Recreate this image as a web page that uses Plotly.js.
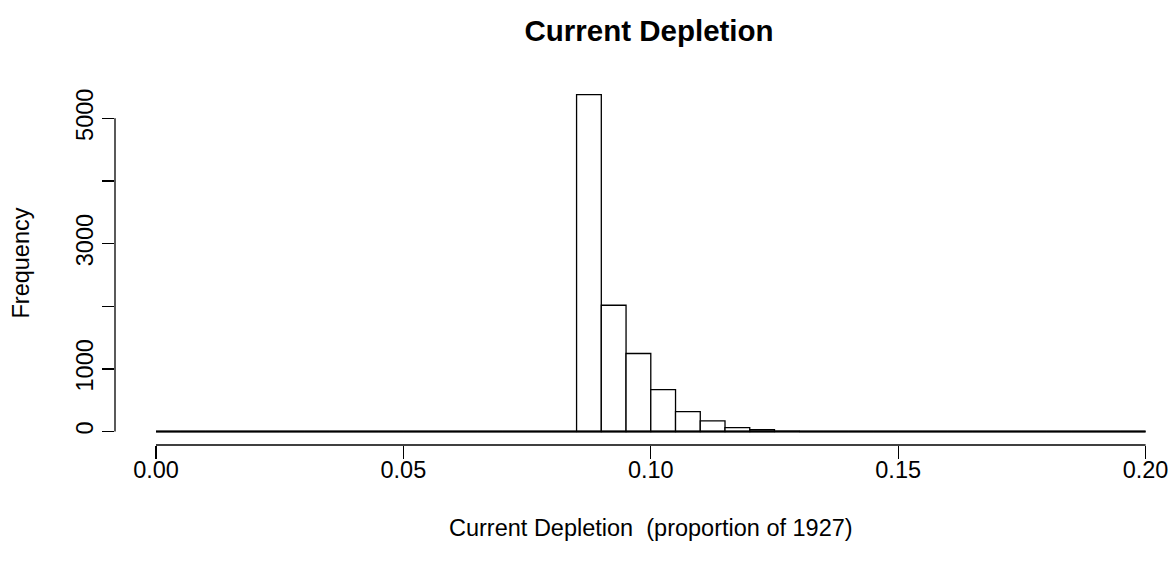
<!DOCTYPE html>
<html>
<head>
<meta charset="utf-8">
<script src="https://cdn.plot.ly/plotly-3.0.1.min.js"></script>
<style>html,body{margin:0;padding:0;background:#fff;}#chart{width:1172px;height:562px;}</style>
</head>
<body>
<div id="chart"></div>
<script>
// Histogram bins (width 0.005, from 0 to 0.2)
var binStart = 0.0;
var binWidth = 0.005;
var counts = [
  0, 0, 0, 0, 0, 0, 0, 0, 0, 0,
  0, 0, 0, 0, 0, 0, 0, 5377, 2016, 1245,
  670, 319, 171, 62, 28, 5, 0, 0, 0, 0,
  0, 0, 0, 0, 0, 0, 0, 0, 0, 0
];
var xTickVals = [0, 0.05, 0.10, 0.15, 0.20];
var xTickText = ["0.00", "0.05", "0.10", "0.15", "0.20"];
var yTickVals = [0, 1000, 2000, 3000, 4000, 5000];
var yTickText = ["0", "1000", "", "3000", "", "5000"];
var titleText = "Current Depletion";
var xTitle = "Current Depletion  (proportion of 1927)";
var yTitle = "Frequency";

var centers = counts.map(function (c, i) { return binStart + (i + 0.5) * binWidth; });

var FONT = "Liberation Sans, Arial, Helvetica, sans-serif";
var AX = 23.5;

var trace = {
  type: "bar",
  x: centers,
  y: counts,
  width: binWidth,
  marker: { color: "rgba(255,255,255,1)", line: { color: "#000", width: 1.3 } },
  hoverinfo: "x+y"
};

var layout = {
  width: 1172, height: 562,
  paper_bgcolor: "#fff", plot_bgcolor: "#fff",
  margin: { l: 115, r: 0, t: 81, b: 117, pad: 0 },
  showlegend: false,
  bargap: 0,
  font: { family: FONT, size: AX, color: "#000" },
  title: { text: "<b>" + titleText + "</b>", font: { family: FONT, size: 29.5, color: "#000" },
           x: 0.5538, xanchor: "center", y: 0.946, yanchor: "middle", xref: "container", yref: "container" },
  xaxis: {
    range: [-0.008286, 0.20534],
    showgrid: false, zeroline: false, showline: false,
    tickmode: "array", tickvals: xTickVals, ticktext: xTickText,
    ticks: "outside", ticklen: 13, tickwidth: 1.3, tickcolor: "#000",
    ticklabelstandoff: -9,
    tickfont: { family: FONT, size: AX, color: "#000" }
  },
  yaxis: {
    range: [-215.4, 5595.6],
    showgrid: false, zeroline: false, showline: false,
    tickmode: "array", tickvals: yTickVals, ticktext: yTickText,
    ticks: "outside", ticklen: 12, tickwidth: 1.3, tickcolor: "#000",
    tickangle: -90,
    tickfont: { family: FONT, size: AX, color: "#000" },
    title: { text: yTitle, font: { family: FONT, size: AX, color: "#000" }, standoff: 35 }
  },
  annotations: [
    { text: xTitle, xref: "x", yref: "paper", x: 0.1, y: -0.228, xanchor: "center", yanchor: "middle",
      showarrow: false, font: { family: FONT, size: AX, color: "#000" } }
  ],
  shapes: [
    { type: "line", xref: "x", yref: "paper", x0: xTickVals[0], x1: xTickVals[xTickVals.length - 1], y0: 0, y1: 0,
      line: { color: "#000", width: 1.3 } },
    { type: "line", xref: "paper", yref: "y", x0: 0, x1: 0, y0: yTickVals[0], y1: yTickVals[yTickVals.length - 1],
      line: { color: "#000", width: 1.3 } },
    { type: "line", xref: "x", yref: "y", x0: xTickVals[0], x1: xTickVals[xTickVals.length - 1], y0: 0, y1: 0,
      line: { color: "#000", width: 2 } }
  ]
};

Plotly.newPlot("chart", [trace], layout, { displayModeBar: false, staticPlot: true });
</script>
</body>
</html>
